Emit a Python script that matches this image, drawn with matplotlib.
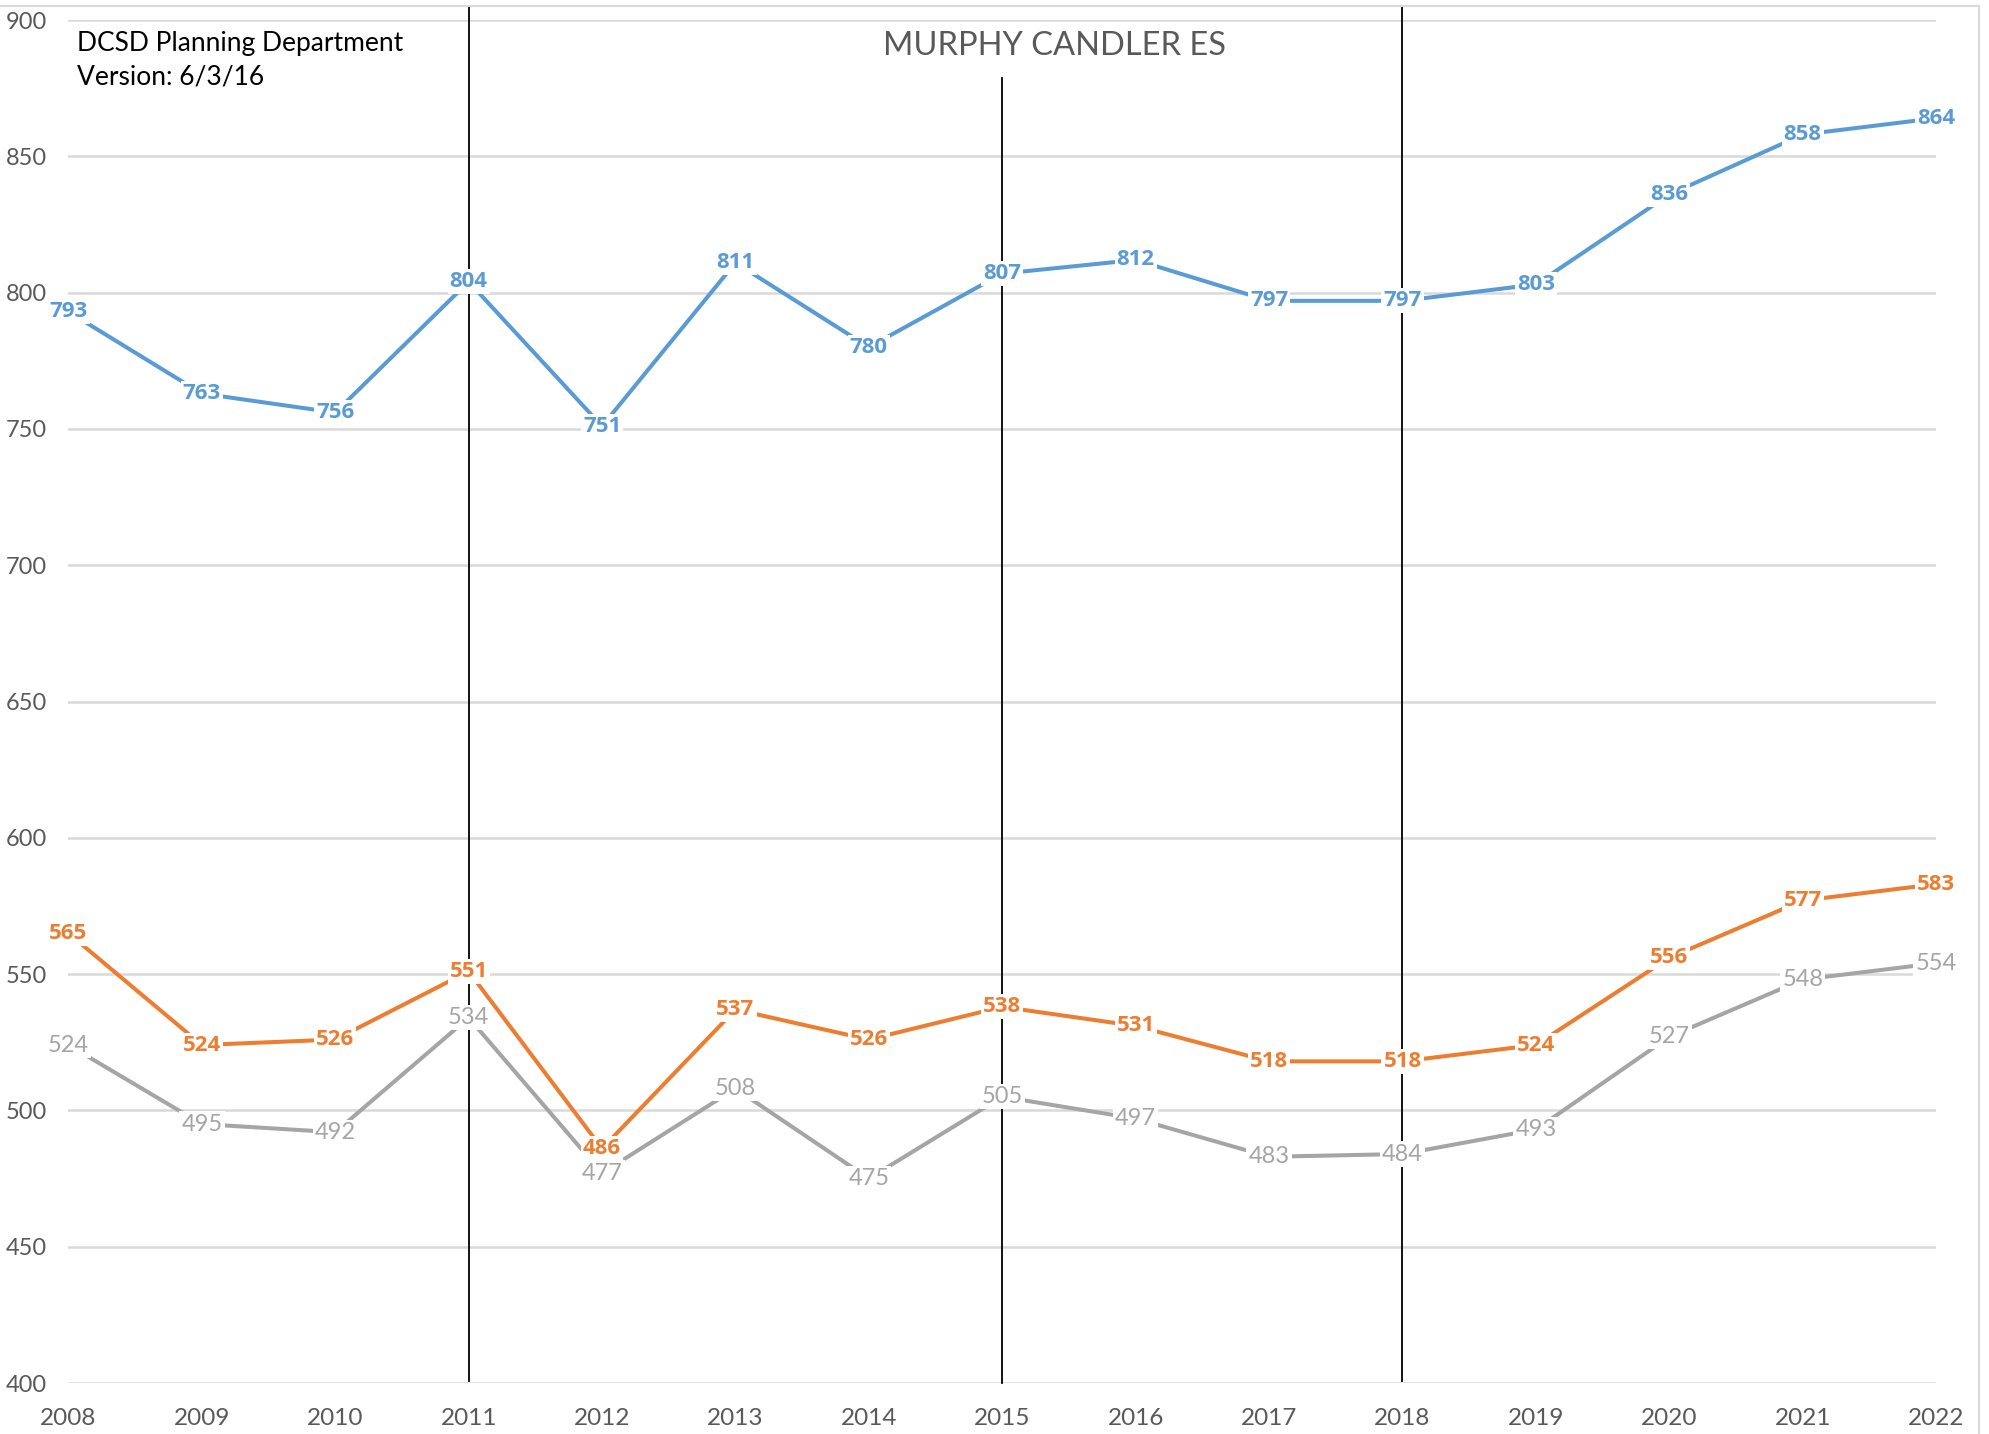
import matplotlib.pyplot as plt
import matplotlib.lines as mlines

years = list(range(2008, 2023))
blue_vals = [793, 763, 756, 804, 751, 811, 780, 807, 812, 797, 797, 803, 836, 858, 864]
orange_vals = [565, 524, 526, 551, 486, 537, 526, 538, 531, 518, 518, 524, 556, 577, 583]
gray_vals = [524, 495, 492, 534, 477, 508, 475, 505, 497, 483, 484, 493, 527, 548, 554]

# vertical marker lines: (year, top, bottom)
marker_lines = [(2011, 905, 400.9), (2015, 878.6, 400), (2018, 905, 400.9)]

title = 'MURPHY CANDLER ES'
note_lines = ['DCSD Planning Department', 'Version: 6/3/16']

plt.rcParams['font.family'] = ['Lato', 'DejaVu Sans']

fig = plt.figure(figsize=(19.89, 14.34), dpi=100)
ax = fig.add_axes([0.0344, 0.03556, 0.939, 0.95044])

series = [
    (blue_vals, '#5B9BD5', 'bold', ['Open Sans', 'DejaVu Sans'], 16),
    (orange_vals, '#ED7D31', 'bold', ['Open Sans', 'DejaVu Sans'], 16),
    (gray_vals, '#A5A5A5', 'normal', ['Lato', 'DejaVu Sans'], 17),
]
for vals, col, wt, fam, fs in series:
    ax.plot(years, vals, color=col, lw=2.9, solid_capstyle='butt', zorder=3)
    for x, v in zip(years, vals):
        ax.text(x, v, str(v), color=col, fontsize=fs, fontweight=wt, family=fam,
                ha='center', va='center', zorder=6,
                bbox=dict(facecolor='white', edgecolor='none', pad=1.5))

for yr, top, bot in marker_lines:
    ax.plot([yr, yr], [bot, top], color='black', lw=1.3, zorder=4, clip_on=False)

ax.set_xlim(2008, 2022)
ax.set_ylim(400, 900)
ax.set_xticks(years)
ax.set_yticks(range(400, 901, 50))
ax.yaxis.grid(True, color='#D9D9D9', lw=1.8)
ax.set_axisbelow(True)
for s in ax.spines.values():
    s.set_visible(False)
ax.tick_params(axis='both', length=0, labelsize=17.5, labelcolor='#595959')
ax.tick_params(axis='y', pad=15.5, labelsize=17)
ax.tick_params(axis='x', pad=18)

fig.text(0.53, 0.968, title, fontsize=23.5, color='#595959', ha='center', va='center')
fig.text(0.0387, 0.970, note_lines[0], fontsize=19, color='black', ha='left', va='center')
fig.text(0.0387, 0.946, note_lines[1], fontsize=19, color='black', ha='left', va='center')

# chart border (top and right edges visible)
fig.add_artist(mlines.Line2D([0, 0.995], [0.9958, 0.9958], color='#D9D9D9', lw=1.5))
fig.add_artist(mlines.Line2D([0.995, 0.995], [0, 0.9958], color='#D9D9D9', lw=1.5))

fig.savefig('out.png', dpi=100)
